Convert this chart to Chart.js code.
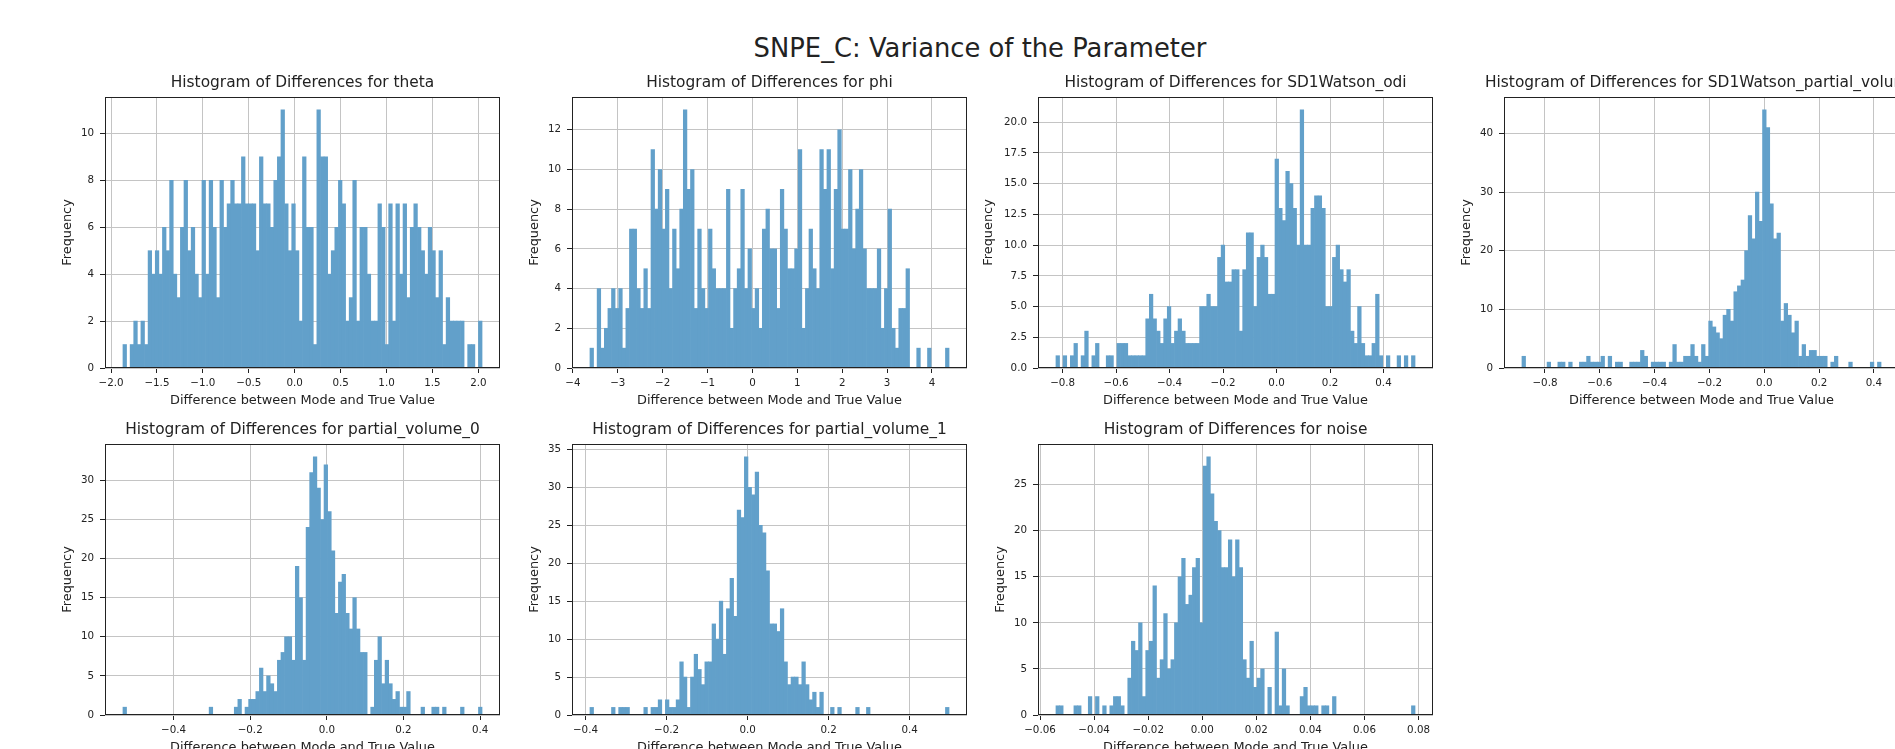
<!DOCTYPE html>
<html>
<head>
<meta charset="utf-8">
<title>SNPE_C: Variance of the Parameter</title>
<script src="https://cdn.jsdelivr.net/npm/chart.js@4.4.0/dist/chart.umd.min.js"></script>
<style>
  html, body { margin: 0; padding: 0; background: #fff; overflow: hidden; width: 1895px; height: 749px; }
  #suptitle { position: absolute; left: 0; width: 1960px; top: 33px; text-align: center;
              font: 25.8px/30px "DejaVu Sans", sans-serif; color: #222; white-space: nowrap; }
  canvas { position: absolute; }
</style>
</head>
<body>
<div id="suptitle">SNPE_C: Variance of the Parameter</div>
<script>
// histogram counts (100 bins each)
const thetaCounts = [1,0,1,2,1,2,1,5,4,5, 4,6,5,8,4,3,6,8,5,6, 4,3,8,4,8,6,3,8,6,7, 8,7,7,9,7,7,7,5,9,7,
  7,6,8,9,11,7,5,7,5,2, 9,6,6,1,11,9,9,4,5,6, 8,7,2,3,8,2,6,6,4,2, 2,7,6,1,7,2,7,4,7,3,
  6,7,6,5,4,6,5,3,5,1, 3,2,2,2,2,0,1,1,0,2];
const phiCounts = [1,0,4,1,2,3,4,3,4,1, 3,7,7,4,3,5,3,11,8,10, 7,9,4,7,5,8,13,9,10,3, 7,4,3,7,5,4,4,4,9,2,
  4,5,9,4,6,3,4,2,7,8, 6,6,3,9,7,5,5,6,11,2, 4,7,5,4,11,9,11,5,9,12, 7,7,10,6,8,10,6,4,4,4,
  6,2,4,8,2,1,3,3,5,0, 0,1,0,0,1,0,0,0,0,1];
const odiCounts = [1,0,1,0,1,2,0,1,3,0, 1,2,0,0,1,1,0,2,2,2, 1,1,1,1,1,4,6,4,3,2, 4,5,2,3,4,3,2,2,2,2,
  5,5,6,5,5,9,10,7,7,8, 8,3,8,11,11,5,9,10,9,6, 6,17,13,12,16,15,13,10,21,10, 10,13,14,14,13,5,5,9,10,8,
  7,8,3,2,5,2,1,1,2,6, 1,0,1,0,0,1,0,1,0,1];
const pvolCounts = [2,0,0,0,0,0,0,1,0,0, 1,1,0,1,0,0,1,1,2,1, 1,1,2,0,2,0,1,1,0,0, 1,1,1,3,2,0,1,1,1,1,
  0,1,4,1,1,2,2,4,2,1, 4,2,8,7,6,5,9,10,8,13, 14,15,20,26,22,30,25,44,41,28, 22,23,8,11,9,6,8,2,4,2,
  3,3,2,2,2,0,1,2,0,0, 0,1,0,0,0,0,0,1,0,1];
const pv0Counts = [1,0,0,0,0,0,0,0,0,0, 0,0,0,0,0,0,0,0,0,0, 0,0,0,0,1,0,0,0,0,0, 0,1,2,0,1,2,2,3,6,3,
  5,4,3,7,8,10,10,7,19,15, 7,24,31,33,29,25,32,26,21,13, 17,18,13,11,15,11,8,8,0,1, 7,10,4,7,4,2,3,1,1,3,
  0,0,0,1,0,0,1,1,0,1, 0,0,0,0,1,0,0,0,0,1];
const pv1Counts = [1,0,0,0,0,0,1,0,1,1, 1,0,0,0,0,1,0,1,1,2, 0,2,1,1,2,7,5,1,5,8, 6,4,7,7,12,10,15,8,14,18,
  13,27,26,34,30,29,32,25,24,19, 12,12,11,14,7,4,5,5,4,7, 4,2,3,1,3,0,0,1,0,1, 0,0,0,0,1,0,0,1,0,0,
  0,0,0,0,0,0,0,0,0,0, 0,0,0,0,0,0,0,0,0,1];
const noiseCounts = [1,1,0,0,0,1,1,0,0,2, 0,2,0,1,0,1,2,2,1,0, 4,8,7,10,2,7,8,14,4,6, 11,5,6,10,15,17,12,13,16,17,
  10,27,28,24,21,20,16,16,19,15, 19,16,6,4,8,3,4,5,0,3, 0,9,1,5,1,0,0,0,2,3, 1,1,1,0,1,1,0,2,0,0,
  0,0,0,0,0,0,0,0,0,0, 0,0,0,0,0,0,0,0,0,1];

// bin range [first edge, last edge]
const thetaRange = [-1.87, 2.04];
const phiRange = [-3.62, 4.38];
const odiRange = [-0.825, 0.518];
const pvolRange = [-0.884, 0.426];
const pv0Range = [-0.532, 0.405];
const pv1Range = [-0.389, 0.497];
const noiseRange = [-0.0541, 0.0787];

// tick labels
const thetaXTicks = [-2, -1.5, -1, -0.5, 0, 0.5, 1, 1.5, 2];
const phiXTicks = [-4, -3, -2, -1, 0, 1, 2, 3, 4];
const odiXTicks = [-0.8, -0.6, -0.4, -0.2, 0, 0.2, 0.4];
const pvolXTicks = [-0.8, -0.6, -0.4, -0.2, 0, 0.2, 0.4];
const pv0XTicks = [-0.4, -0.2, 0, 0.2, 0.4];
const pv1XTicks = [-0.4, -0.2, 0, 0.2, 0.4];
const noiseXTicks = [-0.06, -0.04, -0.02, 0, 0.02, 0.04, 0.06, 0.08];

const thetaYTicks = [0, 2, 4, 6, 8, 10];
const phiYTicks = [0, 2, 4, 6, 8, 10, 12];
const odiYTicks = [0, 2.5, 5, 7.5, 10, 12.5, 15, 17.5, 20];
const pvolYTicks = [0, 10, 20, 30, 40];
const pv0YTicks = [0, 5, 10, 15, 20, 25, 30];
const pv1YTicks = [0, 5, 10, 15, 20, 25, 30, 35];
const noiseYTicks = [0, 5, 10, 15, 20, 25];

const panels = [
  { name: "theta", counts: thetaCounts, range: thetaRange, xTicks: thetaXTicks, xDec: 1, yTicks: thetaYTicks, yDec: 0, col: 0, row: 0 },
  { name: "phi", counts: phiCounts, range: phiRange, xTicks: phiXTicks, xDec: 0, yTicks: phiYTicks, yDec: 0, col: 1, row: 0 },
  { name: "SD1Watson_odi", counts: odiCounts, range: odiRange, xTicks: odiXTicks, xDec: 1, yTicks: odiYTicks, yDec: 1, col: 2, row: 0, yPad: 4.5 },
  { name: "SD1Watson_partial_volume", counts: pvolCounts, range: pvolRange, xTicks: pvolXTicks, xDec: 1, yTicks: pvolYTicks, yDec: 0, col: 3, row: 0 },
  { name: "partial_volume_0", counts: pv0Counts, range: pv0Range, xTicks: pv0XTicks, xDec: 1, yTicks: pv0YTicks, yDec: 0, col: 0, row: 1 },
  { name: "partial_volume_1", counts: pv1Counts, range: pv1Range, xTicks: pv1XTicks, xDec: 1, yTicks: pv1YTicks, yDec: 0, col: 1, row: 1 },
  { name: "noise", counts: noiseCounts, range: noiseRange, xTicks: noiseXTicks, xDec: 2, yTicks: noiseYTicks, yDec: 0, col: 2, row: 1 }
];

// axes boxes in page pixels
const colLeft = [105, 572, 1038, 1504];
const rowTop = [97, 444];
const axW = 395, axH = 271;
const padL = 60, padR = 60, padT = 32, padB = 50;

Chart.defaults.font.family = "'DejaVu Sans', sans-serif";
Chart.defaults.color = "#222";

const fmt = (v, d) => v.toFixed(d).replace("-", "\u2212");
const gridColor = "#c4c4c4";

// matplotlib-like frame around the axes, drawn last
const frame = {
  id: "frame",
  afterDraw(chart) {
    const { ctx, chartArea: a } = chart;
    ctx.save();
    ctx.strokeStyle = "#222";
    ctx.lineWidth = 1;
    ctx.strokeRect(Math.round(a.left) + 0.5, Math.round(a.top) + 0.5,
      Math.round(a.right - a.left) - 1, Math.round(a.bottom - a.top) - 1);
    ctx.restore();
  }
};

panels.forEach(p => {
  const cv = document.createElement("canvas");
  cv.width = axW + padL + padR;
  cv.height = axH + padT + padB;
  cv.style.left = (colLeft[p.col] - padL) + "px";
  cv.style.top = (rowTop[p.row] - padT) + "px";
  document.body.appendChild(cv);

  const n = p.counts.length;
  const [lo, hi] = p.range;
  const w = (hi - lo) / n;
  const pts = p.counts.map((c, i) => ({ x: lo + (i + 0.5) * w, y: c }));
  const margin = 0.05 * (hi - lo);
  const yMax = Math.max(...p.counts) * 1.05;

  new Chart(cv, {
    type: "bar",
    data: {
      datasets: [{
        data: pts,
        xAxisID: "x",
        yAxisID: "y",
        backgroundColor: "#62a0ca",
        borderWidth: 0,
        barPercentage: 1,
        categoryPercentage: 1
      }]
    },
    options: {
      responsive: false,
      animation: false,
      devicePixelRatio: 1,
      layout: { padding: 0 },
      plugins: {
        legend: { display: false },
        tooltip: { enabled: false },
        title: {
          display: true,
          text: "Histogram of Differences for " + p.name,
          font: { size: 15.4, weight: "normal", lineHeight: 1 },
          color: "#222",
          padding: { top: 10.3, bottom: 6.3 }
        }
      },
      scales: {
        x: {
          type: "linear",
          z: 1,
          offset: false,
          min: lo - margin,
          max: hi + margin,
          afterFit: s => { s.height = padB; },
          afterBuildTicks: s => { s.ticks = p.xTicks.map(v => ({ value: v })); },
          ticks: { font: { size: 10.3 }, padding: 4, maxRotation: 0, autoSkip: false, callback: v => fmt(v, p.xDec) },
          grid: { offset: false, color: gridColor, lineWidth: 1, tickLength: 5, tickColor: "#222", tickWidth: 1 },
          border: { display: false },
          title: { display: true, text: "Difference between Mode and True Value",
                   font: { size: 12.9, lineHeight: 1 }, padding: { top: 0, bottom: 11 } }
        },
        y: {
          type: "linear",
          position: "left",
          z: 1,
          min: 0,
          max: yMax,
          afterFit: s => { s.width = padL; },
          afterBuildTicks: s => { s.ticks = p.yTicks.map(v => ({ value: v })); },
          ticks: { font: { size: 10.3 }, padding: 6, callback: v => fmt(v, p.yDec) },
          grid: { color: gridColor, lineWidth: 1, tickLength: 5, tickColor: "#222", tickWidth: 1 },
          border: { display: false },
          title: { display: true, text: "Frequency",
                   font: { size: 12.9, lineHeight: 1 }, padding: { top: p.yPad !== undefined ? p.yPad : 16.5, bottom: 0 } }
        },
        // empty right-hand box so the title centres over the axes
        yRight: {
          type: "linear",
          position: "right",
          afterFit: s => { s.width = padR; },
          grid: { display: false },
          ticks: { display: false },
          border: { display: false }
        }
      }
    },
    plugins: [frame]
  });
});
</script>
</body>
</html>
